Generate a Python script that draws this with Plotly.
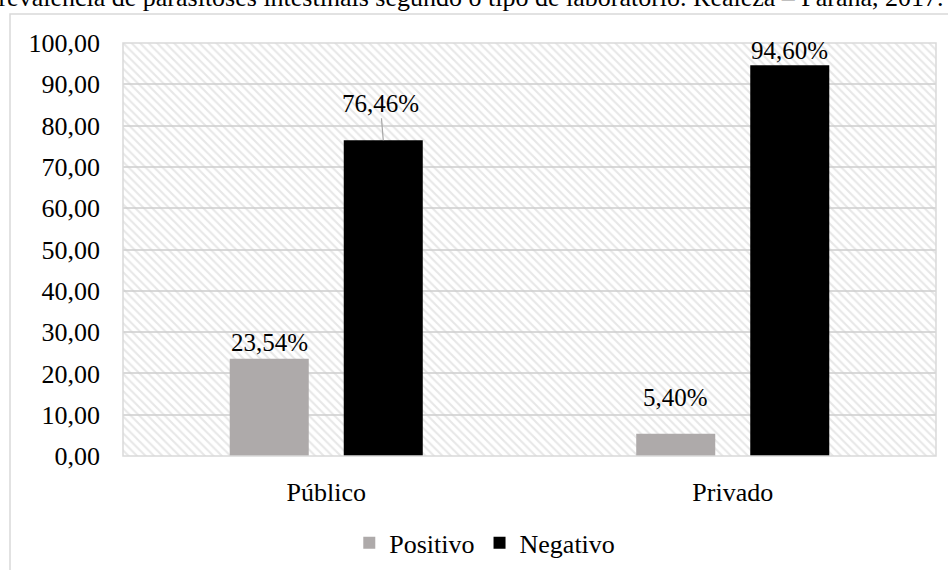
import plotly.graph_objects as go

categories = ["Público", "Privado"]
series_names = ["Positivo", "Negativo"]
positivo = [23.54, 5.40]
negativo = [76.46, 94.60]
colors = ["#aeaaaa", "#000000"]

title_text = "Prevalência de parasitoses intestinais segundo o tipo de laboratório. Realeza – Paraná, 2017."

FONT = "Liberation Serif, Times New Roman, serif"
W, H = 948, 570
ML, MR, MT, MB = 123, 12, 43, 114
PW, PH = W - ML - MR, H - MT - MB
BARGAP = 0.439
BARGROUPGAP = 0.307

# label offsets (pixels) as style: (dx, dy) for each series/category
label_offsets = {
    ("Positivo", 0): (0, 16), ("Negativo", 0): (-3, 37),
    ("Positivo", 1): (0, 36), ("Negativo", 1): (0, 15),
}
leader = {("Negativo", 0)}

def fmt(v):
    return f"{v:.2f}".replace(".", ",") + "%"

fig = go.Figure()

# hatched plot background on base axes
fig.add_trace(go.Scatter(
    x=[0, 1, 1, 0, 0], y=[0, 0, 1, 1, 0], xaxis="x", yaxis="y",
    mode="none", fill="toself", fillcolor="rgba(0,0,0,0)",
    fillpattern=dict(shape="\\", fgcolor="#cfcfcf", bgcolor="rgba(0,0,0,0)",
                     size=6, solidity=0.35),
    hoverinfo="skip", showlegend=False))

for name, vals, col in zip(series_names, [positivo, negativo], colors):
    fig.add_trace(go.Bar(name=name, x=categories, y=vals, marker_color=col,
                         marker_line_width=0, xaxis="x2", yaxis="y2"))

slot = (1 - BARGAP) / 2
annotations = []
for j, (name, vals) in enumerate(zip(series_names, [positivo, negativo])):
    for i, v in enumerate(vals):
        xc = i + (j - 0.5) * slot
        dx, dy = label_offsets[(name, i)]
        if (name, i) in leader:
            annotations.append(dict(
                x=xc, y=v, xref="x2", yref="y2", text=fmt(v),
                showarrow=True, arrowhead=0, arrowwidth=1.2, arrowcolor="#a6a6a6",
                ax=dx, ay=-dy, standoff=0,
                font=dict(family=FONT, size=25, color="#000")))
        else:
            annotations.append(dict(
                x=xc, y=v, xref="x2", yref="y2", text=fmt(v), showarrow=False,
                xshift=dx, yshift=dy, yanchor="middle",
                font=dict(family=FONT, size=25, color="#000")))

annotations.append(dict(
    x=(464 - ML) / PW, y=(H - MB + 2) / PH, xref="paper", yref="paper",
    text=title_text, showarrow=False, xanchor="center", yanchor="middle",
    font=dict(family=FONT, size=26, color="#000")))

fig.update_layout(
    width=W, height=H,
    margin=dict(l=ML, r=MR, t=MT, b=MB, pad=0, autoexpand=False),
    paper_bgcolor="white", plot_bgcolor="white",
    separators=",.",
    barmode="group", bargap=BARGAP, bargroupgap=BARGROUPGAP,
    font=dict(family=FONT, size=26, color="#000"),
    xaxis=dict(range=[0, 1], visible=False, fixedrange=True),
    yaxis=dict(range=[0, 1], visible=False, fixedrange=True),
    xaxis2=dict(overlaying="x", anchor="y2", showgrid=False, showline=False,
                ticks="", ticklabelstandoff=18, automargin=False,
                tickfont=dict(family=FONT, size=26, color="#000")),
    yaxis2=dict(overlaying="y", anchor="x2", range=[0, 100], dtick=10,
                tickformat=".2f", showgrid=True, gridcolor="#d9d9d9",
                gridwidth=1.5, zeroline=False, showline=False, ticks="",
                ticklabelstandoff=22, automargin=False,
                tickfont=dict(family=FONT, size=26, color="#000")),
    legend=dict(orientation="h", x=0.445, xanchor="center", y=-0.21,
                yanchor="middle", font=dict(family=FONT, size=26, color="#000"),
                itemwidth=30, bgcolor="rgba(0,0,0,0)"),
    annotations=annotations,
    shapes=[
        dict(type="rect", xref="paper", yref="paper", x0=0, x1=1, y0=0, y1=1,
             line=dict(color="#d9d9d9", width=1.5), fillcolor="rgba(0,0,0,0)",
             layer="above"),
        dict(type="rect", xref="paper", yref="paper",
             x0=(10 - ML) / PW, x1=1.2, y0=-0.5, y1=(H - MB - 14) / PH,
             line=dict(color="#d9d9d9", width=1.5), fillcolor="rgba(0,0,0,0)",
             layer="below"),
    ],
)

fig.write_html("out.html")
